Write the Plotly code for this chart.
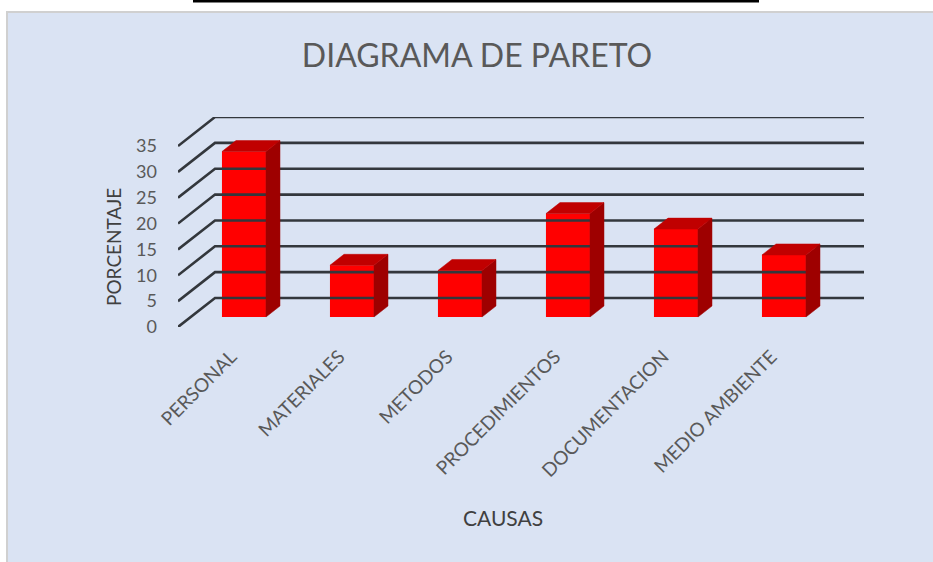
import plotly.graph_objects as go

# ---- data ----
categories = ["PERSONAL", "MATERIALES", "METODOS", "PROCEDIMIENTOS", "DOCUMENTACION", "MEDIO AMBIENTE"]
values = [32, 10, 9, 20, 17, 12]
y_ticks = [0, 5, 10, 15, 20, 25, 30, 35]

# ---- layout geometry (pixels) ----
W, H = 933, 562
PL, PR, PT, PB = 178, 864, 117, 327          # plot area edges
PX_PER_X = 108.0                              # px per category step
PX_PER_Y = (PB - PT) / 40.62                  # px per value unit
x_lo = (PL - 231.2) / PX_PER_X
x_hi = x_lo + (PR - PL) / PX_PER_X
DX = 37 / PX_PER_X                            # full depth offset (x units)
DY = 29 / PX_PER_Y                            # full depth offset (y units)
t1, t2 = 10 / 29, 21 / 29                      # bar front/back depth fractions
bw = 44 / PX_PER_X

def px(x):
    return (x - PL) / (PR - PL)

def py(y):
    return (PB - y) / (PB - PT)

fig = go.Figure()

# gridlines: left side wall diagonals + back wall horizontals
gx, gy = [], []
for v in y_ticks:
    gx += [x_lo, x_lo + DX, x_hi, None]
    gy += [v, v + DY, v + DY, None]
fig.add_trace(go.Scatter(x=gx, y=gy, mode="lines",
                         line=dict(color="#33373c", width=2.6),
                         hoverinfo="skip", showlegend=False))

# bars: side and top faces (3D look), then front face as Bar
FRONT, TOP, SIDE = "#FF0000", "#C00000", "#9E0000"
ddx, ddy = (t2 - t1) * DX, (t2 - t1) * DY
for i, v in enumerate(values):
    xc = i + t1 * DX
    xl, xr = xc - bw / 2, xc + bw / 2
    base = t1 * DY
    top = base + v
    fig.add_trace(go.Scatter(
        x=[xr, xr, xr + ddx, xr + ddx, xr], y=[base, top, top + ddy, base + ddy, base],
        fill="toself", fillcolor=SIDE, mode="lines", line=dict(color=SIDE, width=0.5),
        hoverinfo="skip", showlegend=False))
    fig.add_trace(go.Scatter(
        x=[xl, xr, xr + ddx, xl + ddx, xl], y=[top, top, top + ddy, top + ddy, top],
        fill="toself", fillcolor=TOP, mode="lines", line=dict(color=TOP, width=0.5),
        hoverinfo="skip", showlegend=False))

fig.add_trace(go.Bar(
    x=[i + t1 * DX for i in range(len(values))], y=values,
    base=[t1 * DY] * len(values), width=bw,
    marker=dict(color=FRONT, line=dict(width=0)),
    showlegend=False, hovertext=categories))

FONT = "Lato"
fig.update_layout(
    width=W, height=H,
    margin=dict(l=PL, r=W - PR, t=PT, b=H - PB),
    paper_bgcolor="white", plot_bgcolor="rgba(0,0,0,0)",
    showlegend=False,
    font=dict(family=FONT, color="#595959"),
    title=dict(text="DIAGRAMA DE PARETO", xref="container", yref="container",
               x=477 / W, y=1 - 56 / H, xanchor="center", yanchor="middle",
               font=dict(family=FONT, size=32, color="#595959")),
    xaxis=dict(range=[x_lo, x_hi], tickmode="array",
               tickvals=list(range(len(categories))), ticktext=categories,
               tickangle=-45, showgrid=False, zeroline=False, showline=False,
               ticks="", ticklabelstandoff=14,
               tickfont=dict(family=FONT, size=19, color="#595959")),
    yaxis=dict(range=[0, (PB - PT) / PX_PER_Y], tickmode="array",
               tickvals=y_ticks, showgrid=False, zeroline=False, showline=False,
               ticks="", ticklabelstandoff=20,
               tickfont=dict(family=FONT, size=18, color="#595959")),
    shapes=[
        dict(type="rect", xref="paper", yref="paper", layer="below",
             x0=px(7), x1=px(W + 2), y0=py(12), y1=py(H + 2),
             fillcolor="#DAE3F3", line=dict(color="#D0D0D0", width=2)),
        dict(type="line", xref="paper", yref="paper", layer="below",
             x0=px(193), x1=px(759), y0=py(1), y1=py(1),
             line=dict(color="black", width=3)),
    ],
    annotations=[
        dict(text="PORCENTAJE", xref="paper", yref="paper", x=px(113), y=py(247),
             xanchor="center", yanchor="middle", textangle=-90, showarrow=False,
             font=dict(family=FONT, size=19, color="#404040")),
        dict(text="CAUSAS", xref="paper", yref="paper", x=px(503), y=py(517),
             xanchor="center", yanchor="middle", showarrow=False,
             font=dict(family=FONT, size=21, color="#404040")),
    ],
)

fig.write_html("out.html", config={"displayModeBar": False},
               post_script="document.body.style.margin='0';document.body.style.overflow='hidden';")
